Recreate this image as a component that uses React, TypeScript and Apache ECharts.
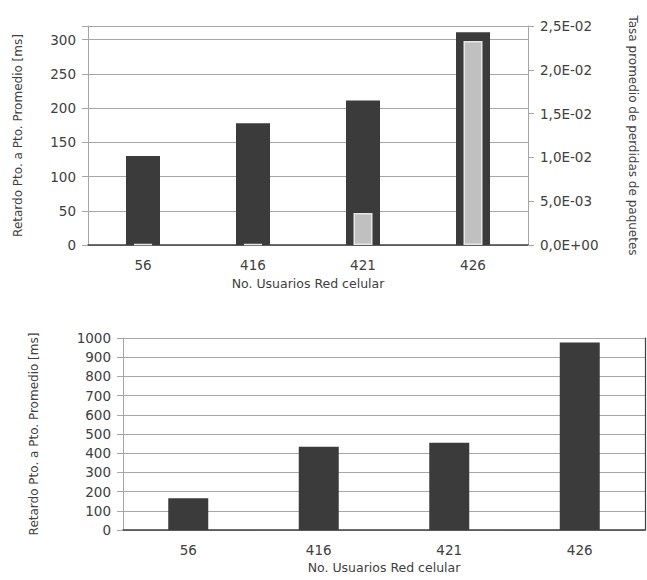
import React, { useEffect, useRef } from "react";
import * as echarts from "echarts";

const categories = ["56", "416", "421", "426"];
const delayTop = [130, 178, 211, 311];
const lossRate = [0.0001, 0.0001, 0.00365, 0.0233];
const delayBottom = [165, 434, 455, 976];

const FONT = "DejaVu Sans";
const TXT = "#404040";
const GRID = "#a6a6a6";

function sciFmt(v: number): string {
  const [m, e] = v.toExponential(1).split("e");
  const n = parseInt(e, 10);
  const sign = n < 0 ? "-" : "+";
  const abs = Math.abs(n).toString().padStart(2, "0");
  return m.replace(".", ",") + "E" + sign + abs;
}

export default function App() {
  const ref = useRef<HTMLDivElement>(null);
  useEffect(() => {
    if (!ref.current) return;
    const chart = echarts.init(ref.current, null, { renderer: "svg" });
    const labelStyle = { color: TXT, fontFamily: FONT, fontSize: 13.5 };
    const nameStyle = { color: TXT, fontFamily: FONT, fontSize: 12 };
    chart.setOption({
      animation: false,
      backgroundColor: "#ffffff",
      grid: [
        { left: 88, top: 26, right: 115, bottom: 335 },
        { left: 123, top: 338, right: 2, bottom: 50 },
      ],
      xAxis: [
        {
          type: "category",
          gridIndex: 0,
          data: categories,
          axisLine: { lineStyle: { color: GRID } },
          axisTick: { show: false },
          axisLabel: { ...labelStyle, margin: 13 },
          name: "No. Usuarios Red celular",
          nameLocation: "middle",
          nameGap: 32,
          nameTextStyle: { ...nameStyle, fontSize: 12.5 },
        },
        {
          type: "category",
          gridIndex: 0,
          data: categories,
          position: "top",
          axisLine: { show: true, lineStyle: { color: "#404040", width: 1.5 } },
          axisTick: { show: false },
          axisLabel: { show: false },
        },
        {
          type: "category",
          gridIndex: 1,
          data: categories,
          axisLine: { lineStyle: { color: GRID } },
          axisTick: { show: false },
          axisLabel: { ...labelStyle, margin: 13 },
          name: "No. Usuarios Red celular",
          nameLocation: "middle",
          nameGap: 31,
          nameTextStyle: { ...nameStyle, fontSize: 12.5 },
        },
        {
          type: "category",
          gridIndex: 1,
          data: categories,
          position: "top",
          axisLine: { show: true, lineStyle: { color: "#404040", width: 1.5 } },
          axisTick: { show: false },
          axisLabel: { show: false },
        },
      ],
      yAxis: [
        {
          type: "value",
          gridIndex: 0,
          min: 0,
          max: 320,
          interval: 50,
          axisLine: { show: true, lineStyle: { color: GRID } },
          axisTick: { show: true, length: 6, lineStyle: { color: GRID } },
          axisLabel: {
            ...labelStyle,
            margin: 12,
            formatter: (v: number) => (v > 300 ? "" : String(v)),
          },
          splitLine: { lineStyle: { color: GRID, width: 1 } },
          name: "Retardo Pto. a Pto. Promedio [ms]",
          nameLocation: "middle",
          nameGap: 64,
          nameTextStyle: nameStyle,
        },
        {
          type: "value",
          gridIndex: 0,
          position: "right",
          min: 0,
          max: 0.025,
          interval: 0.005,
          axisLine: { show: true, lineStyle: { color: GRID } },
          axisTick: { show: true, length: 6, lineStyle: { color: GRID } },
          axisLabel: { ...labelStyle, margin: 12, formatter: (v: number) => sciFmt(v) },
          splitLine: { show: false },
          name: "Tasa promedio de perdidas de paquetes",
          nameLocation: "middle",
          nameRotate: -90,
          nameGap: 99,
          nameTextStyle: nameStyle,
        },
        {
          type: "value",
          gridIndex: 1,
          min: 0,
          max: 1000,
          interval: 100,
          axisLine: { show: true, lineStyle: { color: GRID } },
          axisTick: { show: true, length: 6, lineStyle: { color: GRID } },
          axisLabel: { ...labelStyle, margin: 12, formatter: (v: number) => String(v) },
          splitLine: { lineStyle: { color: GRID, width: 1 } },
          name: "Retardo Pto. a Pto. Promedio [ms]",
          nameLocation: "middle",
          nameGap: 83,
          nameTextStyle: nameStyle,
        },
        {
          type: "value",
          gridIndex: 1,
          position: "right",
          min: 0,
          max: 1000,
          interval: 100,
          axisLine: { show: true, lineStyle: { color: "#404040", width: 1.2 } },
          axisTick: { show: false },
          axisLabel: { show: false },
          splitLine: { show: false },
        },
      ],
      series: [
        {
          type: "bar",
          xAxisIndex: 0,
          yAxisIndex: 0,
          data: delayTop,
          barWidth: 34,
          itemStyle: { color: "#3b3b3b" },
        },
        {
          type: "bar",
          xAxisIndex: 1,
          yAxisIndex: 1,
          data: lossRate,
          barWidth: 19,
          itemStyle: { color: "#c0c0c0", borderColor: "#e6e6e6", borderWidth: 1.5 },
        },
        {
          type: "bar",
          xAxisIndex: 2,
          yAxisIndex: 2,
          data: delayBottom,
          barWidth: 40,
          itemStyle: { color: "#3b3b3b" },
        },
      ],
    });
    return () => chart.dispose();
  }, []);
  return (
    <div
      ref={ref}
      style={{ position: "absolute", left: 0, top: 0, width: 647, height: 580, background: "#fff" }}
    />
  );
}
